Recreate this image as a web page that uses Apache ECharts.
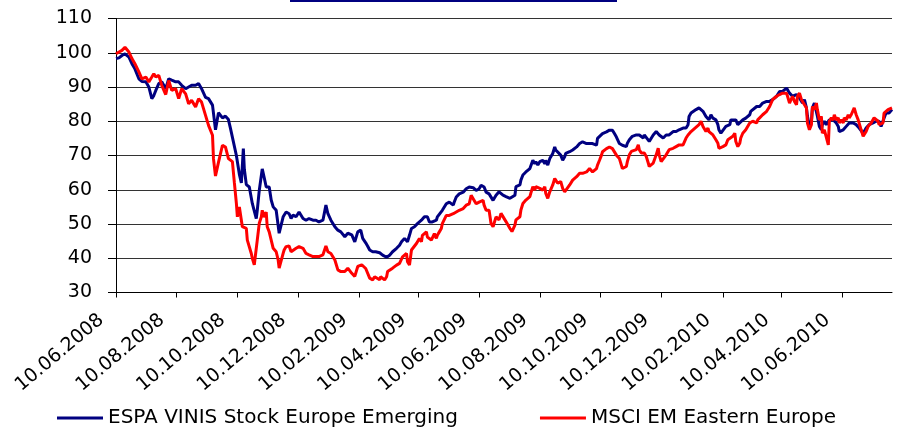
<!DOCTYPE html>
<html><head><meta charset="utf-8">
<script src="https://cdn.jsdelivr.net/npm/echarts@6/dist/echarts.min.js"></script>
<style>html,body{margin:0;padding:0;background:#fff}#c{width:897px;height:428px}</style>
</head><body><div id="c"></div>
<script>
// ---- data ----
const seriesNames = ['ESPA VINIS Stock Europe Emerging', 'MSCI EM Eastern Europe'];
const startDate = '10.06.2008';
const endDate = '30.07.2010';
const tickLabels = ['10.06.2008','10.08.2008','10.10.2008','10.12.2008','10.02.2009','10.04.2009','10.06.2009','10.08.2009','10.10.2009','10.12.2009','10.02.2010','10.04.2010','10.06.2010'];
const yMin = 30, yMax = 110, yStep = 10;

// days since 10.06.2008
const espaDays = [0,3,6,9,13,16,19,23,26,30,33,36,38,40,43,46,50,53,56,60,63,66,70,73,76,80,83,86,90,93,97,100,103,107,110,113,115,117,
121,124,126,128,129,131,134,137,141,142,144,147,149,151,154,156,158,161,164,166,168,171,174,176,178,181,184,188,191,194,198,201,204,208,211,213,216,220,223,226,230,233,237,240,243,246,248,
251,253,255,258,261,265,268,272,275,278,282,285,287,288,290,292,293,295,297,300,303,307,310,312,313,315,317,318,322,323,325,328,332,335,339,340,342,345,349,352,355,357,359,362,365,367,369,370,372,375,379,
382,385,389,392,396,398,401,402,406,407,409,412,416,417,419,421,422,424,426,429,431,432,434,436,439,441,442,444,447,449,451,452,456,459,463,466,469,473,476,479,483,484,486,489,493,496,498,499,501,503,506,509,
513,514,516,519,523,525,526,530,531,533,536,540,543,545,546,550,553,556,560,563,566,570,573,575,576,578,580,583,585,586,588,590,593,595,596,598,600,603,605,606,608,610,613,617,618,620,623,625,627,630,633,637,638,640,
644,647,650,654,657,660,664,667,670,674,675,677,680,684,685,687,689,690,692,694,695,697,699,700,702,704,705,707,709,710,712,714,717,721,724,726,727,731,734,737,741,744,747,751,753,754,757,761,764,767,769,771,772,774,777,780];
const espaValues = [98.3,98.5,99.2,99.7,98.7,96.8,95.3,92.4,91.6,91.5,90,86.6,87.5,89,91,91.5,89.5,92.4,92,91.5,91.5,90.5,89.5,90,90.5,90.5,91,89.5,87,86.6,84.7,77.5,82.5,81,81.5,80.5,78,77.5,
70,64.5,62,72,66,61.5,60.8,56,51.6,54,59.8,66.1,63.5,60.8,60.8,57,55,54,47.3,46.8,52.1,53.5,53,51.6,52.6,52.1,53.5,51.6,51.1,51.6,51.1,51.1,50.6,51.1,55.5,53,51.1,49.2,48.2,47.7,46.3,47.3,46.8,44.8,47.7,48.2,45.8,
44.5,43.5,42.4,41.9,41.9,41.6,40.9,40.3,40.9,41.9,42.9,43.8,44.8,44.3,45.8,45.3,44.8,46.7,48.7,49.2,50.1,51.1,52.1,51.6,52.1,50.6,50.1,50.6,51.1,52.1,52.5,54,55.9,56.4,55.5,56.4,57.9,58.8,59.3,60.3,60.8,61.3,60.6,59.8,60.3,61.3,61.7,60.8,59.3,58.8,56.9,
58.4,59.4,58.4,58,57.5,57.2,58.4,60.9,61.4,62.8,64.3,65.2,66.2,65.7,68.6,67.6,68.2,67.2,68.2,68.6,67.6,68.6,67.2,69.1,70.6,72.5,71.6,71.6,70.1,68.6,69.6,70.6,71.1,71.6,72.5,73.5,74,73.5,73.5,73.5,73,75,75,76.4,76.9,77.4,77.9,77.4,76.4,75.4,73.5,73,
72.6,73.6,74.6,75.6,76,76.5,76,75.1,76,75.6,74.1,76,77,77.5,76,75.1,76,76,77,77,77.5,78,78,79,81.4,82.4,82.9,83.4,82.9,83.9,84.3,82.9,81.4,81.9,80.4,81.9,80.9,80.4,79,77.5,76.5,77,78.5,79,80.4,79.9,80.4,79,79.5,80.4,80.9,81.9,82.9,82.4,
84.3,84.3,85.3,85.8,85.8,86.3,87.3,88.7,88.7,89.7,89.2,88.2,87.3,87.8,88.2,86.8,87.3,85.3,86.3,83.9,81.5,78.5,80,83.9,85.3,84.8,81.5,78.5,77.5,79,80,79,80.4,80.4,79.5,78.5,77,77.5,78.5,79.5,79.5,79,78,76.5,77,78,79,79.5,80,80,78.5,78.5,80.9,82.4,82.4,83.4];

const msciDays = [0,3,6,9,13,16,19,23,26,30,33,36,38,40,43,46,50,53,56,60,63,66,70,73,76,80,83,86,90,93,97,98,100,102,103,107,110,113,117,119,
121,122,124,126,127,129,131,132,134,136,137,139,141,142,144,146,147,149,151,152,154,156,158,161,163,164,166,168,169,171,174,176,178,181,184,188,191,194,198,201,204,208,211,213,216,220,223,226,230,233,237,240,243,247,
251,253,255,258,260,261,265,266,268,270,272,273,275,278,282,285,288,290,292,293,295,297,298,302,303,305,307,308,310,312,313,315,317,318,320,322,323,325,327,328,332,334,335,339,342,345,349,352,355,357,359,362,365,369,370,372,375,377,379,
382,385,387,389,392,396,398,401,402,406,407,409,412,414,416,417,419,421,422,426,429,431,432,434,436,439,441,442,444,446,447,449,451,452,456,459,463,466,468,469,473,476,479,483,484,486,488,489,493,496,499,501,503,506,509,
513,514,516,518,519,523,525,526,528,530,531,533,535,536,540,543,545,546,548,550,553,556,560,563,566,570,571,573,575,576,578,580,582,583,586,588,590,593,595,596,600,603,605,606,608,610,613,615,617,620,622,623,625,627,628,630,633,637,640,
644,645,647,650,654,657,660,664,667,670,674,675,677,679,680,682,684,685,687,689,690,692,694,695,697,699,700,702,704,705,707,709,710,712,714,716,717,719,721,722,724,726,727,729,731,732,734,736,737,739,741,742,744,746,747,749,751,753,754,756,757,759,761,762,764,766,767,769,771,772,774,776,777,780];
const msciValues = [99.7,100.2,100.7,101.6,100.2,98.3,96.8,94.4,92.4,92.9,91.5,92.9,93.9,92.9,93.4,90.5,87.8,91.9,89,89.5,86.6,89.5,88,85.1,86.1,84.2,86.6,85.6,81.7,78.8,75.9,69,64,63.8,68,73,72.5,69.1,68.2,62,
56,52.1,55,51.1,49.2,49.7,48.7,45.3,45.8,41.4,40,38.1,38.1,45.3,50.2,52,54,52,53.5,49.2,47.7,45.3,42.9,41.9,39.5,37.1,37.6,41.4,42.4,43.4,43.6,41.9,42.4,42.9,43.4,42.9,41.4,41,40.5,40.5,40.5,41,43.6,41.9,41.4,39.5,36.6,36.1,36.1,37.1,35.6,34.7,37.6,38.1,
37,36.6,34.2,33.7,34.6,34.2,33.7,34.6,34.2,33.7,34.6,36.1,36.6,37.1,38,38.5,40.4,39.9,41.4,39,38,42.4,42.9,44.3,44.8,45.8,44.8,46.7,46.7,47.7,46.2,46.7,45.3,45.3,47.2,45.8,46.7,47.7,48.7,50.1,52.5,52,52.5,53,53.5,54,54.5,55.5,55.9,58.4,57.4,55.9,56.4,56.9,55.5,54,54,50.1,49.2,
52.1,51.2,53.1,52.6,50.7,48.7,47.8,49.7,51.2,52.1,54.1,56,57,56.5,58,59,60.9,59.9,60.9,60.4,59.9,60.9,58.9,57.5,59.4,61.4,63.3,62.8,61.9,61.4,62.4,60.4,59.4,59.9,61.4,62.8,63.8,64.8,65.2,64.8,65.2,66.2,65.2,66.2,67.2,68.6,70.1,71.1,72,72.5,72,71.6,70.1,69.1,66.2,
66.8,68.2,70.2,71.2,71.2,71.7,73.1,71.7,70.7,71.2,70.7,69.7,67.8,66.8,67.8,70.2,72.1,70.2,68.2,68.7,70.2,71.7,72.1,72.6,73.1,73.1,73.6,75.1,76,76.5,77,76.5,78,78.5,79,80,78.5,77,78,77,76,74.6,73.6,72.1,71.7,72.6,73.1,74.6,75.1,75.6,76.5,74.1,72.6,73.6,75.1,76.5,77.5,79.5,80,
79.5,80.4,80.4,81.9,82.9,84.3,86.3,87.3,87.8,88.2,88.2,87.3,85.3,85.8,87.3,85.8,84.8,87.3,88.2,86.3,86.3,84.8,83.9,79.5,77.5,79,84.3,83.4,85.3,83.4,80.4,81.4,76.5,77.5,78,73.1,80,81,80.4,81.9,80.4,81,79.5,80.4,79.5,81,80.4,81.9,81,81.9,81.9,83.9,81.9,80.4,80,77.5,75.6,76,77,78.5,78.5,79.5,80,81,81.4,80,79,79,79.5,82.4,82.9,83.4,83.9,83.9];

// ---- helpers ----
const DAY = 86400000;
function parseDMY(s) { const p = s.split('.'); return Date.UTC(+p[2], +p[1] - 1, +p[0]); }
function pad(n) { return (n < 10 ? '0' : '') + n; }
function fmt(ts) { const d = new Date(ts); return pad(d.getUTCDate()) + '.' + pad(d.getUTCMonth() + 1) + '.' + d.getUTCFullYear(); }
const t0 = parseDMY(startDate);
const t1 = parseDMY(endDate);
const tickTs = tickLabels.map(parseDMY);
const toPairs = (days, vals) => days.map((d, i) => [t0 + d * DAY, vals[i]]);

const FONT = 'DejaVu Sans';
const chart = echarts.init(document.getElementById('c'), null, { renderer: 'canvas' });
chart.setOption({
  animation: false,
  backgroundColor: '#fff',
  color: ['#000080', '#ff0000'],
  grid: { left: 116, right: 5, top: 18.5, bottom: 135.5, containLabel: false, outerBoundsMode: 'none' },
  legend: {
    data: seriesNames.map(n => ({ name: n, icon: 'rect' })),
    left: 52, top: 403,
    itemWidth: 46, itemHeight: 3, itemGap: 82, itemTextGap: 7,
    textStyle: { fontFamily: FONT, fontSize: 20, color: '#000' }
  },
  xAxis: {
    type: 'value', min: t0, max: t1, scale: true,
    axisLine: { lineStyle: { color: '#000', width: 1 } },
    axisTick: { show: true, length: 5, lineStyle: { color: '#000' }, customValues: tickTs },
    splitLine: { show: false },
    axisLabel: {
      customValues: tickTs, rotate: 40, margin: 13, padding: [0, 19, 0, 0],
      fontFamily: FONT, fontSize: 19, color: '#000',
      formatter: v => fmt(v)
    }
  },
  yAxis: {
    type: 'value', min: yMin, max: yMax, interval: yStep,
    axisLine: { show: true, lineStyle: { color: '#000', width: 1 } },
    axisTick: { show: true, length: 8, lineStyle: { color: '#000' } },
    splitLine: { show: true, lineStyle: { color: '#333', width: 1 } },
    axisLabel: { margin: 24, fontFamily: FONT, fontSize: 19, color: '#000' }
  },
  graphic: [{ type: 'rect', left: 290, top: 0, shape: { width: 327, height: 2 }, style: { fill: '#000080' }, silent: true }],
  series: [
    { name: seriesNames[0], type: 'line', symbol: 'none', showSymbol: false, data: toPairs(espaDays, espaValues), lineStyle: { width: 3, color: '#000080' }, itemStyle: { color: '#000080' } },
    { name: seriesNames[1], type: 'line', symbol: 'none', showSymbol: false, data: toPairs(msciDays, msciValues), lineStyle: { width: 3, color: '#ff0000' }, itemStyle: { color: '#ff0000' } }
  ]
});
</script></body></html>
